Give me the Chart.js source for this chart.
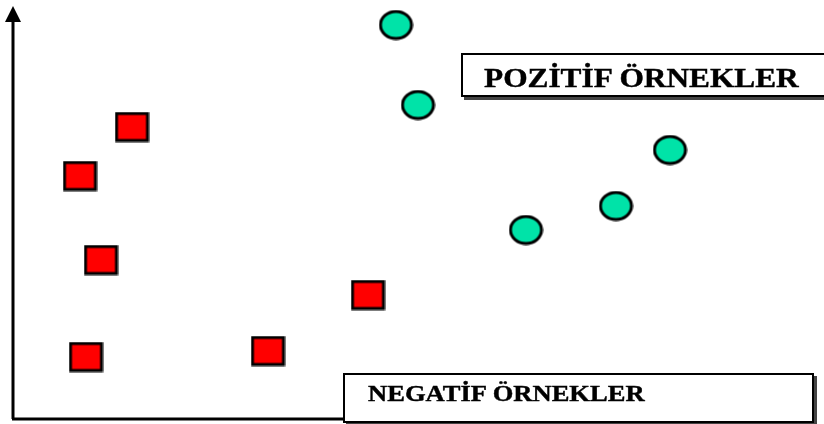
<!DOCTYPE html>
<html>
<head>
<meta charset="utf-8">
<script src="https://cdn.jsdelivr.net/npm/chart.js@4.4.1/dist/chart.umd.min.js"></script>
<style>
  body { margin: 0; background: #fff; }
  #wrap { position: relative; width: 824px; height: 424px; overflow: hidden; }
  .box {
    position: absolute;
    background: #fff;
    border: 2px solid #000;
    box-shadow: 3px 3px 0 #444;
    font-family: "Liberation Serif", "Times New Roman", serif;
    font-weight: bold;
    color: #000;
    white-space: nowrap;
  }
  .box span { position: absolute; transform-origin: 0 0; -webkit-text-stroke: 0.4px #000; }
</style>
</head>
<body>
<div id="wrap">
  <canvas id="myChart" width="824" height="424"></canvas>
  <div class="box" id="posBox" style="left:461px; top:53px; width:380px; height:40px;">
    <span style="left:21px; top:8px; font-size:27px; transform:scaleX(1.16);">POZİTİF ÖRNEKLER</span>
  </div>
  <div class="box" id="negBox" style="left:343px; top:373px; width:467px; height:46px;">
    <span style="left:23px; top:6px; font-size:22.5px; transform:scaleX(1.18);">NEGATİF ÖRNEKLER</span>
  </div>
</div>
<script>
// points (origin = where the two axes meet)
const negX = [119, 67, 88, 73, 255, 355];
const negY = [292, 243, 159, 62, 68, 124];
const posX = [383, 405, 657, 603, 513];
const posY = [394, 314, 269, 213, 189];

// marker images (squares and slightly wide ovals, like the original)
function makeMarker(kind) {
    const c = document.createElement('canvas');
    c.width = 35; c.height = 31;
    const g = c.getContext('2d');
    g.lineWidth = 3;
    g.strokeStyle = '#000';
    if (kind === 'rect') {
        g.fillStyle = '#ff0000';
        g.fillRect(2, 2, 31, 27);
        g.strokeRect(2, 2, 31, 27);
    } else {
        g.fillStyle = '#00e3a8';
        g.beginPath();
        g.ellipse(17.5, 15.5, 15.5, 13.5, 0, 0, Math.PI * 2);
        g.fill();
        g.stroke();
    }
    return c;
}

// axis lines with arrow heads
const arrowAxes = {
    id: 'arrowAxes',
    beforeDatasetsDraw(chart) {
        const ctx = chart.ctx;
        const x = chart.scales.x, y = chart.scales.y;
        const x0 = x.getPixelForValue(0), y0 = y.getPixelForValue(0);
        const yTop = y.getPixelForValue(413);
        const xEnd = x.getPixelForValue(735);
        ctx.save();
        ctx.strokeStyle = '#000';
        ctx.fillStyle = '#000';
        ctx.lineWidth = 3;
        ctx.beginPath();
        ctx.moveTo(x0, y0);
        ctx.lineTo(x0, yTop + 12);
        ctx.moveTo(x0 - 1, y0);
        ctx.lineTo(xEnd, y0);
        ctx.stroke();
        // y arrow
        ctx.beginPath();
        ctx.moveTo(x0, yTop);
        ctx.lineTo(x0 - 8, yTop + 16);
        ctx.lineTo(x0 + 8, yTop + 16);
        ctx.closePath();
        ctx.fill();
        // x arrow (mostly under the label box)
        ctx.beginPath();
        ctx.moveTo(xEnd + 12, y0 + 4);
        ctx.lineTo(xEnd - 8, y0 - 4);
        ctx.lineTo(xEnd - 6, y0 + 10);
        ctx.closePath();
        ctx.fill();
        ctx.restore();
    }
};

const data = {
    datasets: [
        {
            label: 'Negatif',
            data: negX.map((v, i) => ({x: v, y: negY[i]})),
            pointStyle: makeMarker('rect'),
        },
        {
            label: 'Pozitif',
            data: posX.map((v, i) => ({x: v, y: posY[i]})),
            pointStyle: makeMarker('ellipse'),
        },
    ]
};

const config = {
    type: 'scatter',
    data: data,
    options: {
        responsive: false,
        animation: false,
        layout: { padding: 0, autoPadding: false },
        clip: false,
        plugins: {
            legend: { display: false },
            tooltip: { enabled: false },
        },
        scales: {
            x: { type: 'linear', min: -13, max: 811, display: false },
            y: { type: 'linear', min: -5, max: 419, display: false },
        }
    },
    plugins: [arrowAxes]
};

const myChart = new Chart(document.getElementById('myChart'), config);
</script>
</body>
</html>
